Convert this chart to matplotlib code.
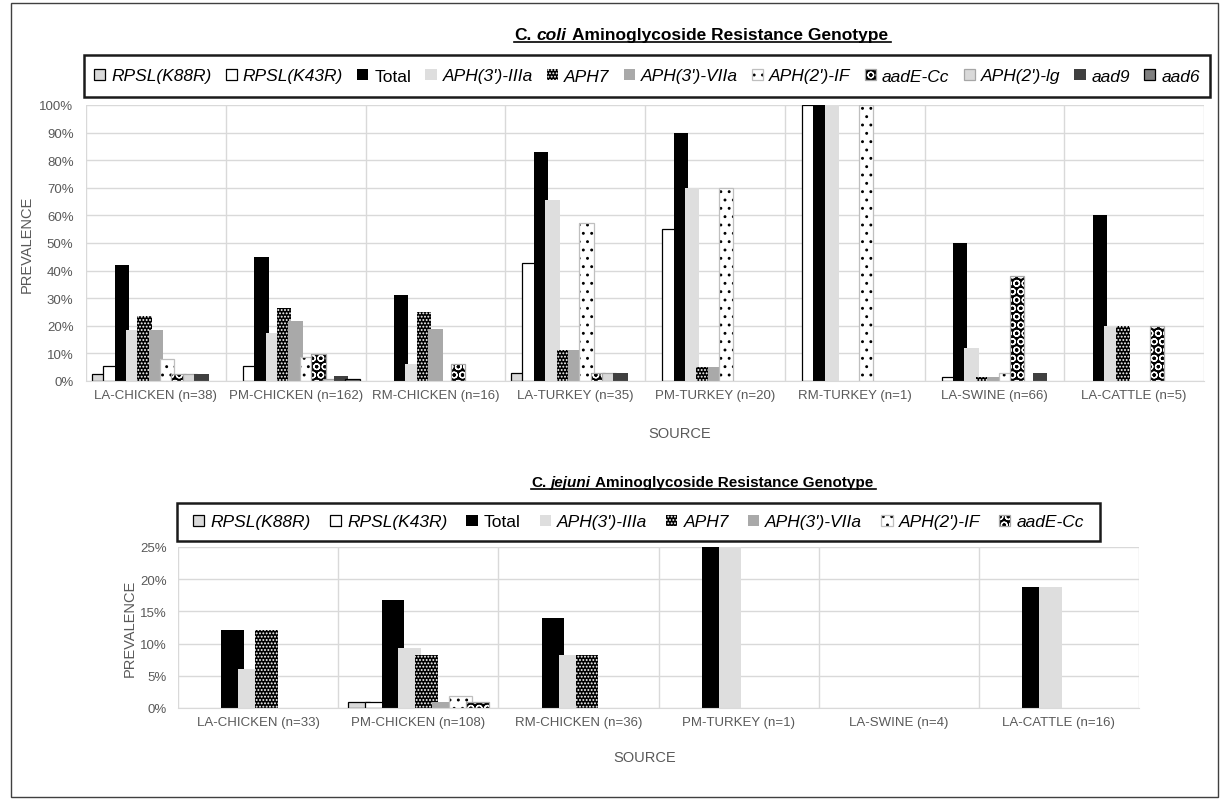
import matplotlib
matplotlib.use("Agg")
import matplotlib.pyplot as plt
from matplotlib.patches import Patch, Rectangle
from matplotlib.lines import Line2D
from matplotlib.legend_handler import HandlerTuple
from matplotlib.ticker import PercentFormatter
import numpy as np

plt.rcParams['font.family'] = ['Liberation Sans', 'DejaVu Sans']
plt.rcParams['hatch.linewidth'] = 0.9

W, H = 1222, 803

# ---- C. coli data (% prevalence) ----
coli_sources = ["LA-CHICKEN (n=38)", "PM-CHICKEN (n=162)", "RM-CHICKEN (n=16)", "LA-TURKEY (n=35)",
                "PM-TURKEY (n=20)", "RM-TURKEY (n=1)", "LA-SWINE (n=66)", "LA-CATTLE (n=5)"]
coli_k88r = [2.6, 0, 0, 2.9, 0, 0, 0, 0]
coli_k43r = [5.3, 5.6, 0, 42.9, 55, 100, 1.5, 0]
coli_total = [42.1, 45.1, 31.3, 82.9, 90, 100, 50, 60]
coli_aph3_iiia = [18.4, 17.3, 6.3, 65.7, 70, 100, 12.1, 20]
coli_aph7 = [23.7, 26.5, 25, 11.4, 5, 0, 1.5, 20]
coli_aph3_viia = [18.4, 21.6, 18.8, 11.4, 5, 0, 1.5, 0]
coli_aph2_if = [7.9, 8.6, 0, 57.1, 70, 100, 3.0, 0]
coli_aade = [2.6, 9.9, 6.3, 2.9, 0, 0, 37.9, 20]
coli_aph2_lg = [2.6, 0.6, 0, 2.9, 0, 0, 0, 0]
coli_aad9 = [2.6, 1.9, 0, 2.9, 0, 0, 3.0, 0]
coli_aad6 = [0, 0.6, 0, 0, 0, 0, 0, 0]

# ---- C. jejuni data (% prevalence) ----
jej_sources = ["LA-CHICKEN (n=33)", "PM-CHICKEN (n=108)", "RM-CHICKEN (n=36)",
               "PM-TURKEY (n=1)", "LA-SWINE (n=4)", "LA-CATTLE (n=16)"]
jej_k88r = [0, 0.9, 0, 0, 0, 0]
jej_k43r = [0, 0.9, 0, 0, 0, 0]
jej_total = [12.1, 16.7, 13.9, 100, 0, 18.8]
jej_aph3_iiia = [6.1, 9.3, 8.3, 100, 0, 18.8]
jej_aph7 = [12.1, 8.3, 8.3, 0, 0, 0]
jej_aph3_viia = [0, 0.9, 0, 0, 0, 0]
jej_aph2_if = [0, 1.9, 0, 0, 0, 0]
jej_aade = [0, 0.9, 0, 0, 0, 0]

coli_names = ["RPSL(K88R)", "RPSL(K43R)", "Total", "APH(3')-IIIa", "APH7", "APH(3')-VIIa",
              "APH(2')-IF", "aadE-Cc", "APH(2')-lg", "aad9", "aad6"]
coli_series = [coli_k88r, coli_k43r, coli_total, coli_aph3_iiia, coli_aph7, coli_aph3_viia,
               coli_aph2_if, coli_aade, coli_aph2_lg, coli_aad9, coli_aad6]
jej_names = coli_names[:8]
jej_series = [jej_k88r, jej_k43r, jej_total, jej_aph3_iiia, jej_aph7, jej_aph3_viia,
              jej_aph2_if, jej_aade]

# face, hatch colour, hatch, outline
STYLE = {
    "RPSL(K88R)": ('#d9d9d9', None, None, 'black'),
    "RPSL(K43R)": ('white', None, None, 'black'),
    "Total": ('black', None, None, None),
    "APH(3')-IIIa": ('#dedede', None, None, None),
    "APH7": ('black', 'white', '.....', None),
    "APH(3')-VIIa": ('#a9a9a9', None, None, None),
    "APH(2')-IF": ('white', 'black', '..', '#bfbfbf'),
    "aadE-Cc": ('black', 'white', 'OO', '#a6a6a6'),
    "APH(2')-lg": ('#d9d9d9', None, None, '#a6a6a6'),
    "aad9": ('#404040', None, None, None),
    "aad6": ('#808080', None, None, 'black'),
}

GRID = '#d9d9d9'
TXT = '#595959'


def fx(x):
    return x / W


def fy(y):
    return 1 - y / H


def draw_bars(ax, sources, names, series, step, width):
    x = np.arange(len(sources))
    n = len(series)
    for i, (name, vals) in enumerate(zip(names, series)):
        face, hcol, hatch, edge = STYLE[name]
        vals = np.array(vals, dtype=float)
        pos = x + (i - (n - 1) / 2) * step
        if hatch:
            ax.bar(pos, vals, width, color=face, edgecolor=hcol, hatch=hatch, linewidth=0, zorder=2)
        else:
            ax.bar(pos, vals, width, color=face, linewidth=0, zorder=2)
        if edge:
            m = vals > 0
            ax.bar(pos[m], vals[m], width, fill=False, edgecolor=edge, linewidth=0.9, zorder=2)
    ax.set_xlim(-0.5, len(sources) - 0.5)
    ax.set_xticks(x)
    ax.set_xticklabels(sources)
    ax.set_xticks(np.arange(len(sources) + 1) - 0.5, minor=True)
    ax.grid(True, which='minor', axis='x', color=GRID, lw=1)
    ax.grid(True, which='major', axis='y', color=GRID, lw=1)
    ax.set_axisbelow(True)
    for s in ['top', 'right', 'left']:
        ax.spines[s].set_visible(False)
    ax.spines['bottom'].set_color(GRID)
    ax.tick_params(which='both', length=0)
    ax.tick_params(axis='x', labelsize=9.5, labelcolor=TXT, pad=6)
    ax.tick_params(axis='y', labelsize=9.5, labelcolor=TXT, pad=9)
    ax.yaxis.set_major_formatter(PercentFormatter(decimals=0))


def make_handles(names):
    hs = []
    for name in names:
        face, hcol, hatch, edge = STYLE[name]
        if hatch:
            h = Patch(facecolor=face, edgecolor=hcol, hatch=hatch, linewidth=0)
            if edge:
                h = (h, Patch(fill=False, edgecolor=edge, linewidth=0.9))
        else:
            h = Patch(facecolor=face, edgecolor=edge if edge else face, linewidth=0.9 if edge else 0)
        hs.append(h)
    return hs


def legend_box(names, x0, x1, y0, y1, fs, pad):
    fig.patches.append(Rectangle((fx(x0), fy(y1)), fx(x1) - fx(x0), fy(y0) - fy(y1),
                                 transform=fig.transFigure, fill=False, edgecolor='#1a1a1a', lw=1.8))
    leg = fig.legend(make_handles(names), names, loc='center', ncol=len(names), mode='expand',
                     bbox_to_anchor=(fx(x0 + pad), fy(y1), fx(x1 - pad) - fx(x0 + pad), fy(y0) - fy(y1)),
                     bbox_transform=fig.transFigure, frameon=False, fontsize=fs,
                     handlelength=0.65, handleheight=0.65, handletextpad=0.35,
                     borderpad=0, borderaxespad=0, columnspacing=0.5,
                     handler_map={tuple: HandlerTuple(ndivide=1, pad=0)})
    for t in leg.get_texts():
        if t.get_text() != 'Total':
            t.set_fontstyle('italic')


def title(parts, xc, y, fs):
    r = fig.canvas.get_renderer()
    probe1 = fig.text(0, 0, 'x x', fontsize=fs, fontweight='bold')
    probe2 = fig.text(0, 0, 'xx', fontsize=fs, fontweight='bold')
    space = probe1.get_window_extent(r).width - probe2.get_window_extent(r).width
    probe1.remove()
    probe2.remove()
    texts = [fig.text(0, fy(y), s, fontsize=fs, fontweight='bold', fontstyle=st, va='baseline')
             for s, st in parts]
    widths = [t.get_window_extent(r).width for t in texts]
    total = sum(widths) + space * (len(parts) - 1)
    x = xc - total / 2
    for t, w in zip(texts, widths):
        t.set_x(fx(x))
        x += w + space
    x_end = x - space + space * 0.6
    fig.lines.append(Line2D([fx(xc - total / 2), fx(x_end)], [fy(y + 3), fy(y + 3)],
                            transform=fig.transFigure, color='black', lw=1.2))


fig = plt.figure(figsize=(W / 100, H / 100), dpi=100)

# outer frame
fig.patches.append(Rectangle((fx(11), fy(798)), fx(1218) - fx(11), fy(4) - fy(798),
                             transform=fig.transFigure, fill=False, edgecolor='#404040', lw=1))

# ---- top chart ----
ax1 = fig.add_axes([fx(86), fy(382), fx(1204) - fx(86), fy(106) - fy(382)])
draw_bars(ax1, coli_sources, coli_names, coli_series, step=0.0814, width=0.103)
ax1.set_ylim(0, 100)
ax1.set_yticks(np.arange(0, 101, 10))
fig.text(fx(27), fy(244), 'PREVALENCE', rotation=90, ha='center', va='center', fontsize=10.5, color=TXT)
fig.text(fx(680), fy(434), 'SOURCE', ha='center', va='center', fontsize=10.5, color=TXT)
title([("C.", 'normal'), ("coli", 'italic'), ("Aminoglycoside Resistance Genotype", 'normal')], 701, 40, 12.5)
legend_box(coli_names, 84, 1210, 56, 98, 12.5, 10)

# ---- bottom chart ----
ax2 = fig.add_axes([fx(178), fy(709), fx(1139) - fx(178), fy(548) - fy(709)])
draw_bars(ax2, jej_sources, jej_names, jej_series, step=0.1056, width=0.142)
ax2.set_ylim(0, 25)
ax2.set_yticks(np.arange(0, 26, 5))
ax2.tick_params(axis='y', pad=8)
fig.text(fx(130), fy(628), 'PREVALENCE', rotation=90, ha='center', va='center', fontsize=10.5, color=TXT)
fig.text(fx(645), fy(758), 'SOURCE', ha='center', va='center', fontsize=10.5, color=TXT)
title([("C.", 'normal'), ("jejuni", 'italic'), ("Aminoglycoside Resistance Genotype", 'normal')], 702, 487, 11)
legend_box(jej_names, 177, 1100, 504, 542, 12.5, 16)

fig.savefig('out.png', dpi=100)
